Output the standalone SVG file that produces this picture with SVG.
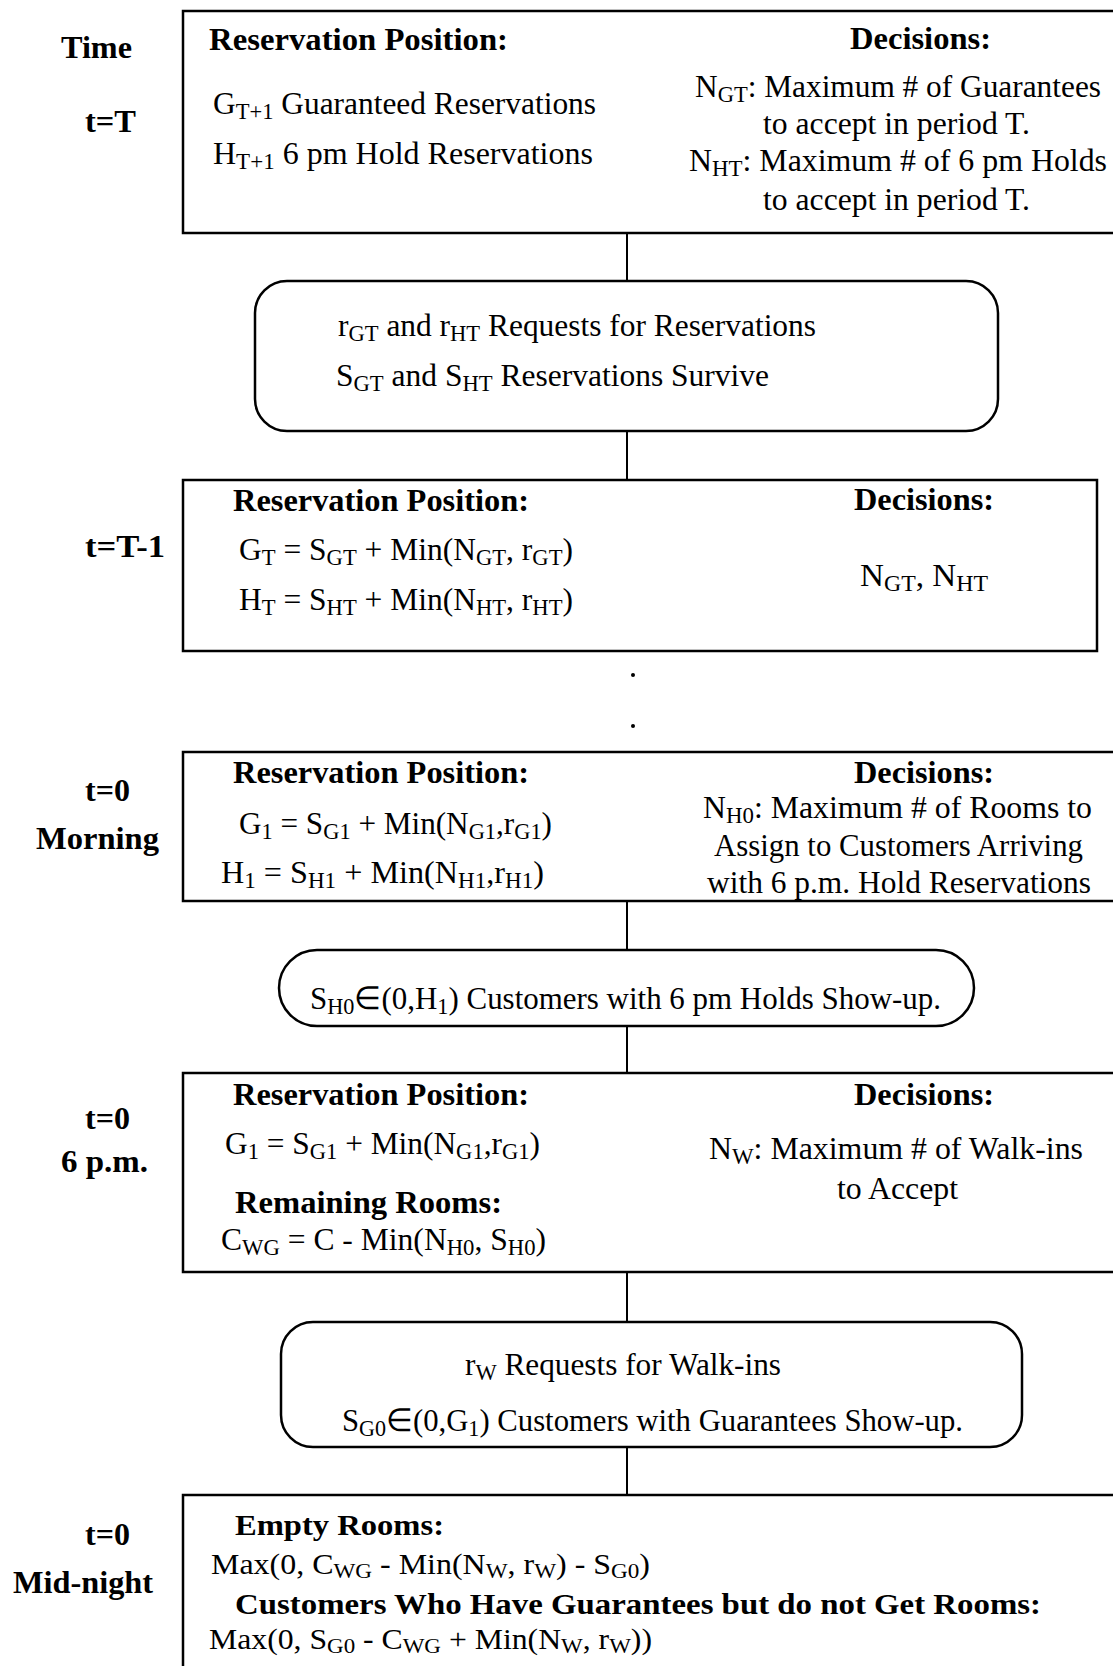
<svg xmlns="http://www.w3.org/2000/svg" width="1113" height="1666" viewBox="0 0 1113 1666">
<style>
text { font-family: "Liberation Serif", "Times New Roman", serif; font-size: 32px; fill: #000; }
.b { font-weight: bold; }
.s { font-size: 23px; baseline-shift: -5px; }
.m { font-size: 29px; }
.m .s { font-size: 21px; baseline-shift: -4px; }
.box { fill: #fff; stroke: #000; stroke-width: 2.5; }
.conn { stroke: #000; stroke-width: 2; fill: none; }
</style>
<rect width="1113" height="1666" fill="#fff"/>
<g id="connectors">
<line class="conn" x1="627" y1="233" x2="627" y2="281"/>
<line class="conn" x1="627" y1="431" x2="627" y2="480"/>
<line class="conn" x1="627" y1="901" x2="627" y2="950"/>
<line class="conn" x1="627" y1="1026" x2="627" y2="1073"/>
<line class="conn" x1="627" y1="1272" x2="627" y2="1322"/>
<line class="conn" x1="627" y1="1447" x2="627" y2="1495"/>
<circle cx="633" cy="675" r="2" fill="#000"/>
<circle cx="633" cy="726" r="2" fill="#000"/>
</g>
<g id="time-labels">
<text class="b" x="61" y="58" textLength="71" lengthAdjust="spacingAndGlyphs">Time</text>
<text class="b" x="85" y="132" textLength="51" lengthAdjust="spacingAndGlyphs">t=T</text>
<text class="b" x="85" y="557" textLength="80" lengthAdjust="spacingAndGlyphs">t=T-1</text>
<text class="b" x="85" y="801" textLength="45" lengthAdjust="spacingAndGlyphs">t=0</text>
<text class="b" x="36" y="849" textLength="123" lengthAdjust="spacingAndGlyphs">Morning</text>
<text class="b" x="85" y="1129" textLength="45" lengthAdjust="spacingAndGlyphs">t=0</text>
<text class="b" x="61" y="1172" textLength="87" lengthAdjust="spacingAndGlyphs">6 p.m.</text>
<text class="b" x="85" y="1545" textLength="45" lengthAdjust="spacingAndGlyphs">t=0</text>
<text class="b" x="13" y="1593" textLength="140" lengthAdjust="spacingAndGlyphs">Mid-night</text>
</g>
<g id="node-period-T">
<rect class="box" x="183" y="11" width="940" height="222"/>
<text class="b" x="209" y="50" textLength="299" lengthAdjust="spacingAndGlyphs">Reservation Position:</text>
<text class="b" x="850" y="49" textLength="141" lengthAdjust="spacingAndGlyphs">Decisions:</text>
<text x="213" y="114" textLength="383" lengthAdjust="spacingAndGlyphs">G<tspan class="s">T+1</tspan> Guaranteed Reservations</text>
<text x="213" y="164" textLength="380" lengthAdjust="spacingAndGlyphs">H<tspan class="s">T+1</tspan> 6 pm Hold Reservations</text>
<text x="695" y="97" textLength="406" lengthAdjust="spacingAndGlyphs">N<tspan class="s">GT</tspan>: Maximum # of Guarantees</text>
<text x="763" y="134" textLength="267" lengthAdjust="spacingAndGlyphs">to accept in period T.</text>
<text x="689" y="171" textLength="418" lengthAdjust="spacingAndGlyphs">N<tspan class="s">HT</tspan>: Maximum # of 6 pm Holds</text>
<text x="763" y="210" textLength="267" lengthAdjust="spacingAndGlyphs">to accept in period T.</text>
</g>
<g id="node-requests-T">
<rect class="box" x="255" y="281" width="743" height="150" rx="32" ry="32"/>
<text x="338" y="336" textLength="478" lengthAdjust="spacingAndGlyphs">r<tspan class="s">GT</tspan> and r<tspan class="s">HT</tspan> Requests for Reservations</text>
<text x="336" y="386" textLength="433" lengthAdjust="spacingAndGlyphs">S<tspan class="s">GT</tspan> and S<tspan class="s">HT</tspan> Reservations Survive</text>
</g>
<g id="node-period-T-1">
<rect class="box" x="183" y="480" width="914" height="171"/>
<text class="b" x="233" y="511" textLength="296" lengthAdjust="spacingAndGlyphs">Reservation Position:</text>
<text class="b" x="854" y="510" textLength="140" lengthAdjust="spacingAndGlyphs">Decisions:</text>
<text x="239" y="560" textLength="334" lengthAdjust="spacingAndGlyphs">G<tspan class="s">T</tspan> = S<tspan class="s">GT</tspan> + Min(N<tspan class="s">GT</tspan>, r<tspan class="s">GT</tspan>)</text>
<text x="239" y="610" textLength="334" lengthAdjust="spacingAndGlyphs">H<tspan class="s">T</tspan> = S<tspan class="s">HT</tspan> + Min(N<tspan class="s">HT</tspan>, r<tspan class="s">HT</tspan>)</text>
<text x="860" y="586" textLength="128" lengthAdjust="spacingAndGlyphs">N<tspan class="s">GT</tspan>, N<tspan class="s">HT</tspan></text>
</g>
<g id="node-morning">
<rect class="box" x="183" y="752" width="940" height="149"/>
<text class="b" x="233" y="783" textLength="296" lengthAdjust="spacingAndGlyphs">Reservation Position:</text>
<text class="b" x="854" y="783" textLength="140" lengthAdjust="spacingAndGlyphs">Decisions:</text>
<text x="239" y="834" textLength="313" lengthAdjust="spacingAndGlyphs">G<tspan class="s">1</tspan> = S<tspan class="s">G1</tspan> + Min(N<tspan class="s">G1</tspan>,r<tspan class="s">G1</tspan>)</text>
<text x="221" y="883" textLength="323" lengthAdjust="spacingAndGlyphs">H<tspan class="s">1</tspan> = S<tspan class="s">H1</tspan> + Min(N<tspan class="s">H1</tspan>,r<tspan class="s">H1</tspan>)</text>
<text x="703" y="818" textLength="389" lengthAdjust="spacingAndGlyphs">N<tspan class="s">H0</tspan>: Maximum # of Rooms to</text>
<text x="714" y="856" textLength="369" lengthAdjust="spacingAndGlyphs">Assign to Customers Arriving</text>
<text x="707" y="893" textLength="384" lengthAdjust="spacingAndGlyphs">with 6 p.m. Hold Reservations</text>
</g>
<g id="node-holds-showup">
<rect class="box" x="279" y="950" width="695" height="76" rx="38" ry="38"/>
<text x="310" y="1009" textLength="631" lengthAdjust="spacingAndGlyphs">S<tspan class="s">H0</tspan>∈(0,H<tspan class="s">1</tspan>) Customers with 6 pm Holds Show-up.</text>
</g>
<g id="node-6pm">
<rect class="box" x="183" y="1073" width="940" height="199"/>
<text class="b" x="233" y="1105" textLength="296" lengthAdjust="spacingAndGlyphs">Reservation Position:</text>
<text class="b" x="854" y="1105" textLength="140" lengthAdjust="spacingAndGlyphs">Decisions:</text>
<text x="225" y="1154" textLength="315" lengthAdjust="spacingAndGlyphs">G<tspan class="s">1</tspan> = S<tspan class="s">G1</tspan> + Min(N<tspan class="s">G1</tspan>,r<tspan class="s">G1</tspan>)</text>
<text class="b" x="235" y="1213" textLength="267" lengthAdjust="spacingAndGlyphs">Remaining Rooms:</text>
<text x="221" y="1250" textLength="325" lengthAdjust="spacingAndGlyphs">C<tspan class="s">WG</tspan> = C - Min(N<tspan class="s">H0</tspan>, S<tspan class="s">H0</tspan>)</text>
<text x="709" y="1159" textLength="374" lengthAdjust="spacingAndGlyphs">N<tspan class="s">W</tspan>: Maximum # of Walk-ins</text>
<text x="837" y="1199" textLength="121" lengthAdjust="spacingAndGlyphs">to Accept</text>
</g>
<g id="node-walkins">
<rect class="box" x="281" y="1322" width="741" height="125" rx="32" ry="32"/>
<text x="465" y="1375" textLength="316" lengthAdjust="spacingAndGlyphs">r<tspan class="s">W</tspan> Requests for Walk-ins</text>
<text x="342" y="1431" textLength="621" lengthAdjust="spacingAndGlyphs">S<tspan class="s">G0</tspan>∈(0,G<tspan class="s">1</tspan>) Customers with Guarantees Show-up.</text>
</g>
<g id="node-midnight">
<rect class="box" x="183" y="1495" width="940" height="200"/>
<text class="b m" x="235" y="1535" textLength="209" lengthAdjust="spacingAndGlyphs">Empty Rooms:</text>
<text class="m" x="211" y="1574" textLength="439" lengthAdjust="spacingAndGlyphs">Max(0,  C<tspan class="s">WG</tspan> - Min(N<tspan class="s">W</tspan>, r<tspan class="s">W</tspan>) - S<tspan class="s">G0</tspan>)</text>
<text class="b m" x="235" y="1614" textLength="806" lengthAdjust="spacingAndGlyphs">Customers Who Have Guarantees but do not Get Rooms:</text>
<text class="m" x="209" y="1649" textLength="443" lengthAdjust="spacingAndGlyphs">Max(0,  S<tspan class="s">G0</tspan> - C<tspan class="s">WG</tspan> + Min(N<tspan class="s">W</tspan>, r<tspan class="s">W</tspan>))</text>
</g>
</svg>
